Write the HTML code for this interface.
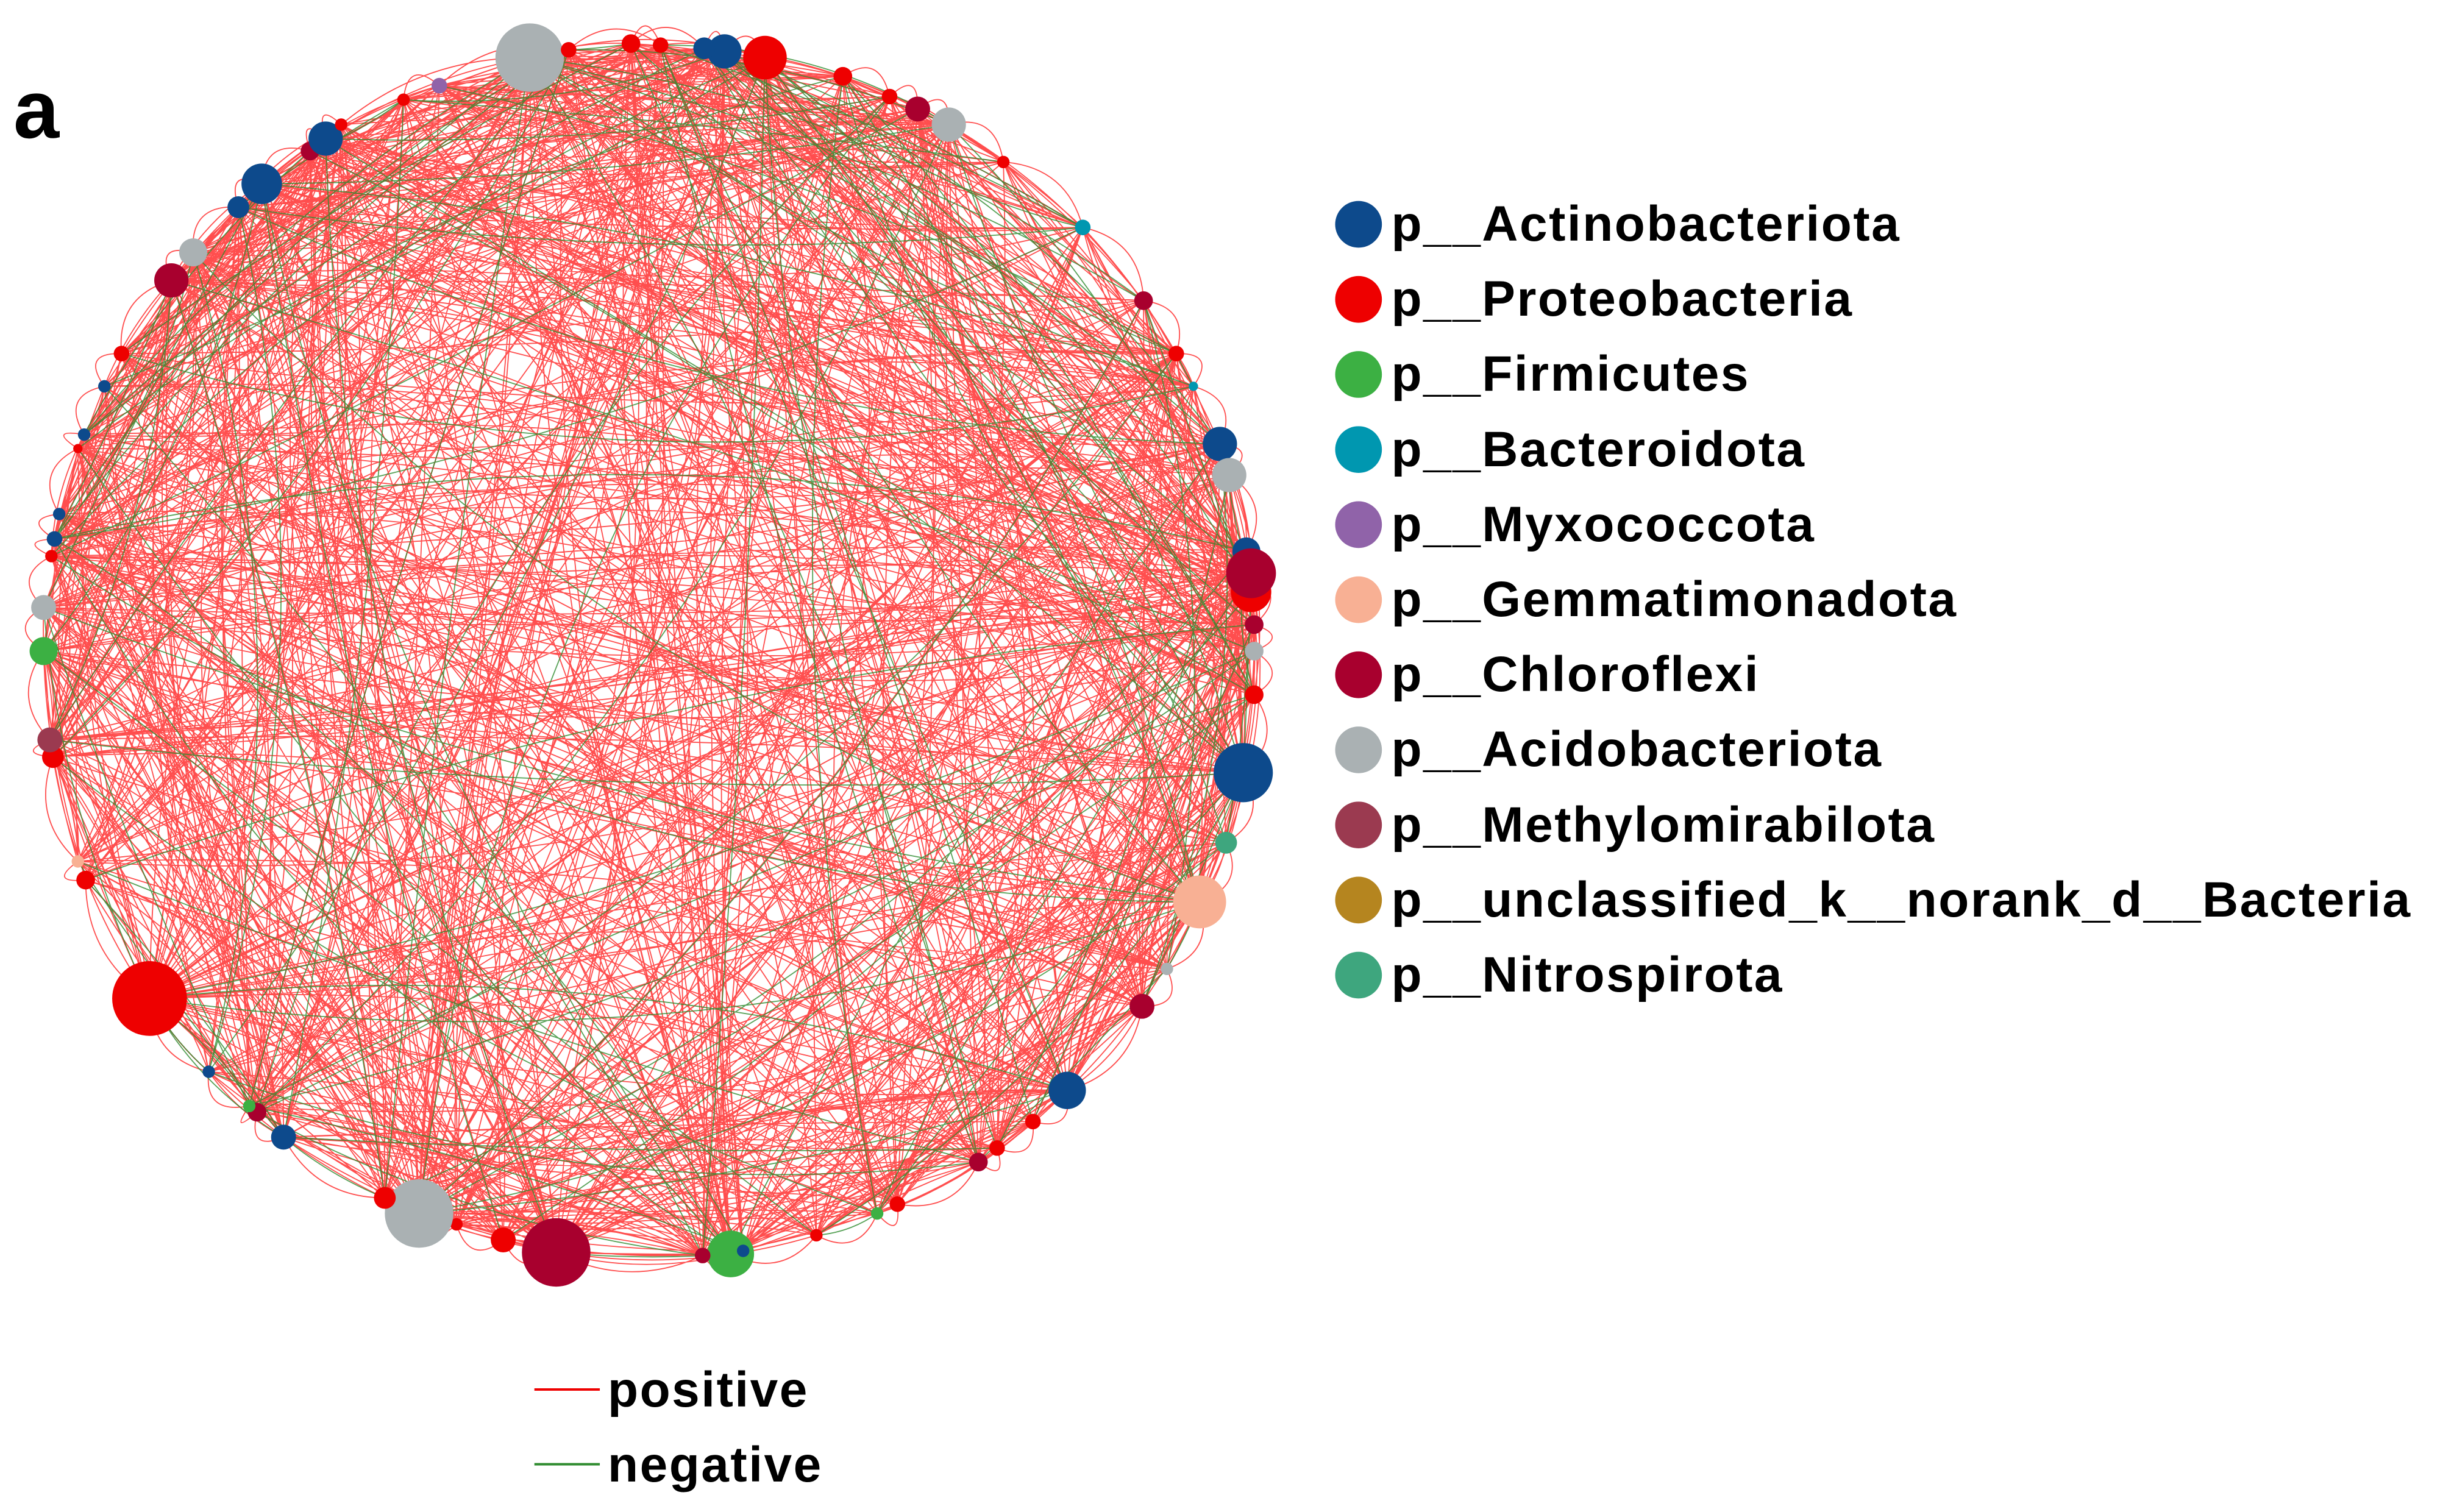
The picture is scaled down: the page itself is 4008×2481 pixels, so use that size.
<!DOCTYPE html>
<html><head><meta charset="utf-8">
<style>
html,body{margin:0;padding:0;background:#fff;}
#wrap{position:relative;width:4008px;height:2481px;overflow:hidden;background:#fff;font-family:"Liberation Sans",sans-serif;font-weight:bold;}
svg{position:absolute;left:0;top:0;}
.t{position:absolute;font-size:82px;color:#000;line-height:1;white-space:nowrap;letter-spacing:2.5px;}
</style></head>
<body><div id="wrap">
<svg id="s" width="4008" height="2481" viewBox="0 0 4008 2481"></svg>
<div class="t" style="left:22px;top:112px;font-size:135px;">a</div>
<div id="leg"></div>
<div class="t" style="left:997px;top:2240px;">positive</div>
<div class="t" style="left:997px;top:2363px;">negative</div>
</div>
<script>
var S=2.556;
var C={b:"#0d4a8c",r:"#ee0000",g:"#3cb043",t:"#0097b0",p:"#9063a9",s:"#f8b094",d:"#a8002e",y:"#aab1b3",m:"#9b3a50",o:"#b5851f",n:"#3ea67e"};
var N=[[340,37,22,'y'],[491,37,14,'r'],[465,33,11,'b'],[452,31,7,'b'],[405,28,6,'r'],[424,29,5,'r'],[365,32,5,'r'],
[282,55,5,'p'],[259,64,4,'r'],[541,49,6,'r'],[571,62,5,'r'],[589,70,8,'d'],[609,80,11,'y'],[644,104,4,'r'],[695,146,5,'t'],
[734,193,6,'d'],[755,227,5,'r'],[766,248,3,'t'],[783,285,11,'b'],[789,305,11,'y'],[800,354,9,'b'],[803,380,13,'r'],[803,368,16,'d'],
[805,401,6,'d'],[805,418,6,'y'],[805,446,6,'r'],[798,496,19,'b'],[787,541,7,'n'],[770,579,17,'s'],[749,622,4,'y'],[733,646,8,'d'],
[685,700,12,'b'],[663,720,5,'r'],[640,737,5,'r'],[628,746,6,'d'],[576,773,5,'r'],[563,779,4,'g'],[524,793,4,'r'],[469,805,15,'g'],
[477,803,4,'b'],[451,806,5,'d'],[357,804,22,'d'],[323,796,8,'r'],[293,786,4,'r'],[269,779,22,'y'],[247,769,7,'r'],[182,730,8,'b'],
[165,714,6,'d'],[160,710,4,'g'],[134,688,4,'b'],[96,641,24,'r'],[55,565,6,'r'],[50,553,4,'s'],[34,486,7,'r'],[32,475,8,'m'],
[28,418,9,'g'],[28,390,8,'y'],[33,357,4,'r'],[35,346,5,'b'],[38,330,4,'b'],[50,288,3,'r'],[54,279,4,'b'],[67,248,4,'b'],[78,227,5,'r'],
[110,180,11,'d'],[124,162,9,'y'],[153,133,7,'b'],[168,118,13,'b'],[199,97,6,'d'],[209,89,11,'b'],[219,80,4,'r']];
var seed=12345;function R(){seed=(seed*16807)%2147483647;return seed/2147483647;}
var ns="http://www.w3.org/2000/svg",svg=document.getElementById('s');
var ge=document.createElementNS(ns,'g');svg.appendChild(ge);
var cx=418*S,cy=425*S;
var w=N.map(function(n){return 2+n[2]/6;});var tw=w.reduce(function(a,b){return a+b;},0);
function pick(){var x=R()*tw;for(var i=0;i<N.length;i++){x-=w[i];if(x<=0)return i;}return 0;}
var d1="",d2="";
for(var k=0;k<1200;k++){
 var a=pick(),b=pick();if(a==b)continue;
 var x1=N[a][0]*S,y1=N[a][1]*S,x2=N[b][0]*S,y2=N[b][1]*S;
 var mx=(x1+x2)/2,my=(y1+y2)/2;var dx=x2-x1,dy=y2-y1;
 var f=(R()-0.5)*0.3;var qx=mx-dy*f,qy=my+dx*f;
 var p="M"+x1.toFixed(1)+" "+y1.toFixed(1)+"Q"+qx.toFixed(1)+" "+qy.toFixed(1)+" "+x2.toFixed(1)+" "+y2.toFixed(1);
 if(R()<0.13)d2+=p;else d1+=p;
}
for(var i=0;i<N.length;i++){var j=(i+1)%N.length;
 d1+="M"+(N[i][0]*S)+" "+(N[i][1]*S)+"Q"+(cx+(N[i][0]*S+N[j][0]*S-2*cx)*0.53)+" "+(cy+(N[i][1]*S+N[j][1]*S-2*cy)*0.53)+" "+(N[j][0]*S)+" "+(N[j][1]*S);}
var p1=document.createElementNS(ns,'path');p1.setAttribute('d',d1);p1.setAttribute('fill','none');p1.setAttribute('stroke','#f22');p1.setAttribute('stroke-width','1.8');p1.setAttribute('stroke-opacity','0.8');ge.appendChild(p1);
var p2=document.createElementNS(ns,'path');p2.setAttribute('d',d2);p2.setAttribute('fill','none');p2.setAttribute('stroke','#2e8b2e');p2.setAttribute('stroke-width','1.8');p2.setAttribute('stroke-opacity','0.8');ge.appendChild(p2);
N.forEach(function(n){var c=document.createElementNS(ns,'circle');c.setAttribute('cx',n[0]*S);c.setAttribute('cy',n[1]*S);c.setAttribute('r',n[2]*S);c.setAttribute('fill',C[n[3]]);svg.appendChild(c);});
var L=[['b','p__Actinobacteriota'],['r','p__Proteobacteria'],['g','p__Firmicutes'],['t','p__Bacteroidota'],['p','p__Myxococcota'],['s','p__Gemmatimonadota'],['d','p__Chloroflexi'],['y','p__Acidobacteriota'],['m','p__Methylomirabilota'],['o','p__unclassified_k__norank_d__Bacteria'],['n','p__Nitrospirota']];
var leg=document.getElementById('leg');
L.forEach(function(l,i){var y=(144+i*48.2)*S;
 var c=document.createElementNS(ns,'circle');c.setAttribute('cx',872*S);c.setAttribute('cy',y);c.setAttribute('r',15*S);c.setAttribute('fill',C[l[0]]);svg.appendChild(c);
 var t=document.createElement('div');t.className='t';t.style.left=(893*S)+'px';t.style.top=(y-41)+'px';t.textContent=l[1];leg.appendChild(t);});
[[892,'#ee0000'],[940,'#2e8b2e']].forEach(function(q){var ln=document.createElementNS(ns,'line');ln.setAttribute('x1',343*S);ln.setAttribute('x2',385*S);ln.setAttribute('y1',q[0]*S);ln.setAttribute('y2',q[0]*S);ln.setAttribute('stroke',q[1]);ln.setAttribute('stroke-width',4);svg.appendChild(ln);});
</script>
</body></html>
